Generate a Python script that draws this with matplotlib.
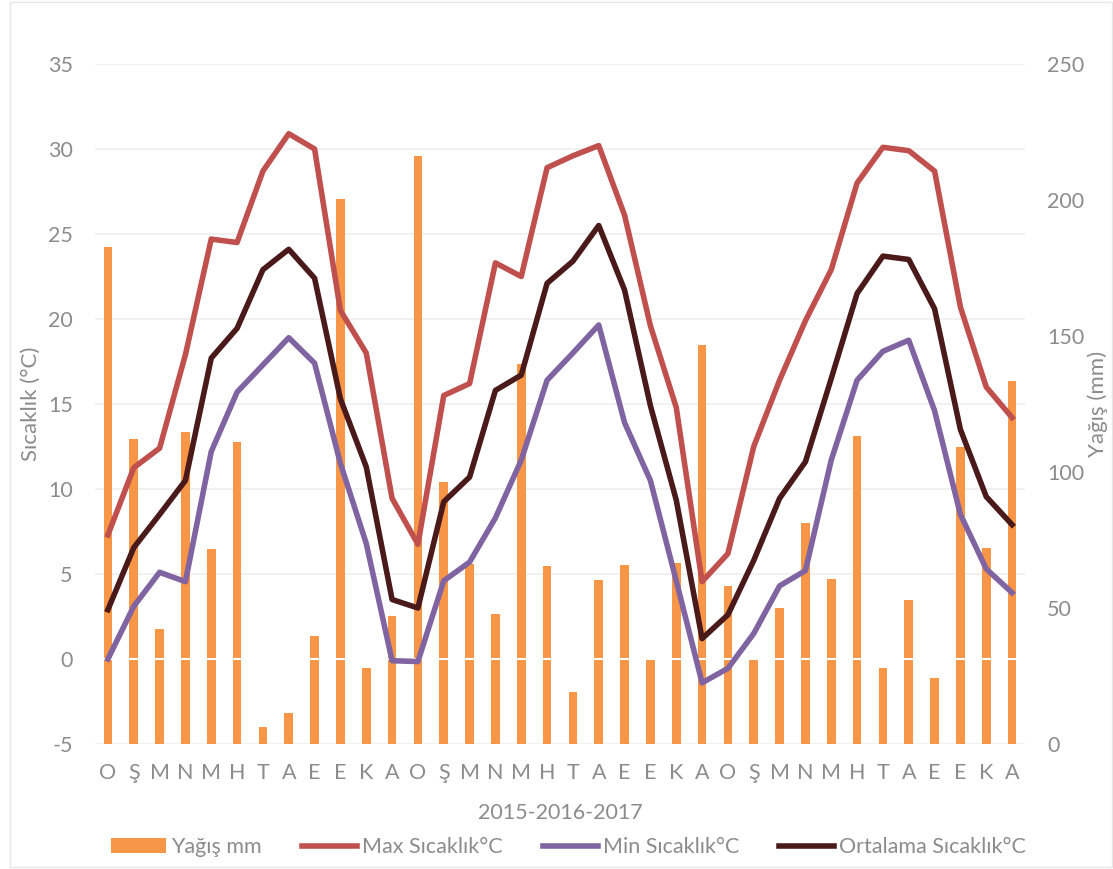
import numpy as np
import matplotlib
matplotlib.use("Agg")
import matplotlib.pyplot as plt
from matplotlib.patches import Rectangle

plt.rcParams['font.family'] = ['Lato', 'DejaVu Sans']
plt.rcParams['axes.unicode_minus'] = False

# aylar (2015-2016-2017)
months = ["O", "Ş", "M", "N", "M", "H", "T", "A", "E", "E", "K", "A"] * 3

# yağış (mm)
rain = [182.7, 112.1, 42.2, 114.6, 71.8, 110.9, 6.4, 11.3, 39.8, 200.5, 27.9, 46.9,
        216.2, 96.4, 66.1, 47.7, 139.7, 65.4, 19.0, 60.3, 65.7, 30.8, 66.5, 146.7,
        58.1, 30.8, 49.9, 81.3, 60.7, 113.4, 28.1, 52.9, 24.1, 109.1, 71.9, 133.6]

# sıcaklık (°C)
t_max = [7.3, 11.25, 12.4, 17.9, 24.7, 24.5, 28.7, 30.9, 30.0, 20.5, 18.0, 9.45,
         6.75, 15.5, 16.2, 23.3, 22.5, 28.9, 29.6, 30.2, 26.1, 19.6, 14.8, 4.55,
         6.2, 12.5, 16.4, 19.9, 22.9, 28.0, 30.1, 29.9, 28.7, 20.7, 16.0, 14.2]
t_min = [0.0, 3.1, 5.1, 4.55, 12.2, 15.7, 17.3, 18.9, 17.4, 11.5, 6.8, -0.1,
         -0.15, 4.6, 5.7, 8.3, 11.7, 16.4, 18.0, 19.65, 13.9, 10.5, 4.6, -1.4,
         -0.55, 1.5, 4.3, 5.2, 11.7, 16.4, 18.1, 18.75, 14.6, 8.5, 5.3, 3.9]
t_mean = [2.9, 6.55, 8.5, 10.5, 17.7, 19.45, 22.9, 24.1, 22.4, 15.3, 11.3, 3.5,
          3.0, 9.25, 10.7, 15.8, 16.7, 22.1, 23.4, 25.5, 21.7, 14.9, 9.35, 1.2,
          2.6, 5.8, 9.45, 11.6, 16.5, 21.5, 23.7, 23.5, 20.6, 13.5, 9.55, 7.9]

x = np.arange(len(months))
gray = "#8c8c8c"
fs = 15.5

fig = plt.figure(figsize=(11.13, 8.69), dpi=100)
rect = [95/1113, 1 - 744/869, 930/1113, 680/869]

ax = fig.add_axes(rect)
ax.set_xlim(-0.5, 35.5)
ax.set_ylim(-5, 35)
ax.set_yticks(np.arange(-5, 36, 5))
ax.grid(axis='y', color='#efefef', lw=1.2)
ax.set_axisbelow(True)
for s in ax.spines.values():
    s.set_visible(False)
ax.tick_params(length=0, labelsize=fs, labelcolor=gray)
ax.tick_params(axis='y', pad=16)
ax.tick_params(axis='x', pad=14)
ax.set_xticks(x)
ax.set_xticklabels(months)
ax.set_ylabel("Sıcaklık (°C)", fontsize=16, color=gray, va='center')
ax.yaxis.set_label_coords(-0.069, 0.5)
ax.set_xlabel("2015-2016-2017", fontsize=fs, color=gray, labelpad=14)

ax2 = ax.twinx()
ax2.set_ylim(0, 250)
ax2.set_yticks(np.arange(0, 251, 50))
for s in ax2.spines.values():
    s.set_visible(False)
ax2.tick_params(length=0, labelsize=fs, labelcolor=gray, pad=16)
ax2.set_ylabel("Yağış (mm)", fontsize=16, color=gray, va='center')
ax2.yaxis.set_label_coords(1.078, 0.5)
bars = ax2.bar(x, rain, width=0.33, color="#f79646", label="Yağış mm")

# çizgiler için üst katman
ax3 = fig.add_axes(rect, sharex=ax, sharey=ax)
ax3.axis('off')
ax3.patch.set_visible(False)
ax3.axhline(0, color='white', lw=1.5, zorder=1)
l1, = ax3.plot(x, t_max, color="#c0504d", lw=4, label="Max Sıcaklık°C", zorder=3)
l2, = ax3.plot(x, t_min, color="#8064a2", lw=4, label="Min Sıcaklık°C", zorder=3)
l3, = ax3.plot(x, t_mean, color="#4a1a1a", lw=4, label="Ortalama Sıcaklık°C", zorder=3)

leg = fig.legend(handles=[bars, l1, l2, l3], loc='center', ncol=4,
                 bbox_to_anchor=(0.511, 0.025), frameon=False, fontsize=fs,
                 handlelength=2.55, columnspacing=1.85, handletextpad=0.25)
for t in leg.get_texts():
    t.set_color(gray)

fig.patches.append(Rectangle((0.009, 0.002), 0.99, 0.996, transform=fig.transFigure,
                             fill=False, edgecolor='#e6e6e6', lw=1))

plt.savefig("out.png", dpi=100)
